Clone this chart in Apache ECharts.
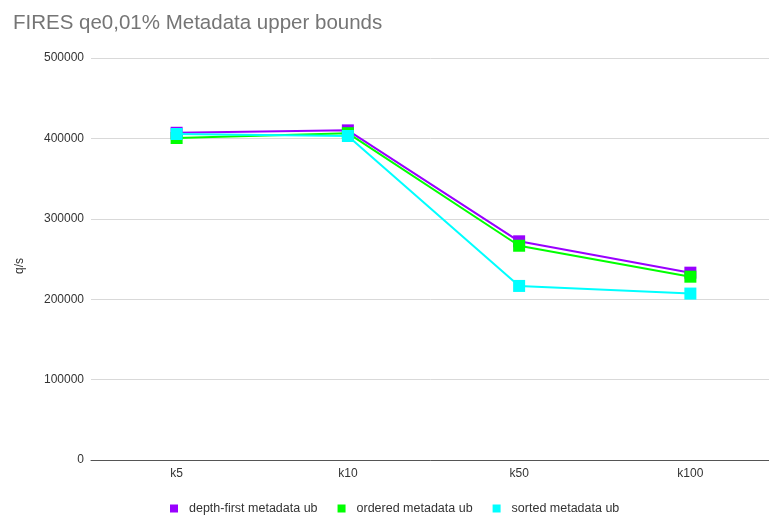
<!DOCTYPE html>
<html>
<head>
<meta charset="utf-8">
<script src="https://cdn.jsdelivr.net/npm/echarts@6/dist/echarts.min.js"></script>
<style>
  html, body { margin: 0; padding: 0; background: #fff; }
  #chart { width: 769px; height: 516px; }
</style>
</head>
<body>
<div id="chart"></div>
<script>
// Query throughput (q/s) per k for three metadata upper-bound strategies
const categories = ['k5', 'k10', 'k50', 'k100'];
const depthFirst = [407000, 410000, 272000, 233000];
const ordered = [400500, 406500, 266500, 228000];
const sorted = [405500, 403000, 216500, 207000];
const yTicks = [0, 100000, 200000, 300000, 400000, 500000];

const seriesNames = ['depth-first metadata ub', 'ordered metadata ub', 'sorted metadata ub'];
const seriesData = [depthFirst, ordered, sorted];
const colors = ['#9900ff', '#00ff00', '#00ffff'];

const chart = echarts.init(document.getElementById('chart'), null, { renderer: 'canvas' });
const font = 'Liberation Sans, Arial, sans-serif';

chart.setOption({
  animation: false,
  backgroundColor: '#ffffff',
  title: {
    text: 'FIRES qe0,01% Metadata upper bounds',
    left: 8,
    top: 8,
    textStyle: { fontFamily: font, fontSize: 20.5, fontWeight: 'normal', color: '#757575' }
  },
  legend: {
    top: 497,
    left: 165,
    itemWidth: 8,
    itemHeight: 8,
    itemGap: 20,
    icon: 'rect',
    textStyle: { fontFamily: font, fontSize: 12.5, color: '#333', padding: [0, 0, 0, 6] },
    data: seriesNames
  },
  grid: { left: 91, width: 685, top: 58, bottom: 56, outerBoundsMode: 'none', containLabel: false },
  xAxis: {
    type: 'category',
    data: categories,
    boundaryGap: true,
    axisLine: { lineStyle: { color: '#555', width: 1 } },
    axisTick: { show: false },
    axisLabel: { fontFamily: font, fontSize: 12, color: '#333', margin: 8 }
  },
  yAxis: {
    type: 'value',
    min: yTicks[0],
    max: yTicks[yTicks.length - 1],
    interval: 100000,
    name: 'q/s',
    nameLocation: 'middle',
    nameGap: 65,
    nameRotate: 90,
    nameTextStyle: { fontFamily: font, fontSize: 12, color: '#333', padding: [0, 14, 0, 0] },
    axisLine: { show: false },
    axisTick: { show: false },
    splitLine: { lineStyle: { color: '#d9d9d9', width: 1 } },
    axisLabel: {
      fontFamily: font, fontSize: 12, color: '#333', margin: 7,
      formatter: v => String(v)
    }
  },
  series: seriesNames.map((name, i) => ({
    name,
    type: 'line',
    data: seriesData[i],
    color: colors[i],
    symbol: 'rect',
    symbolSize: 12,
    showAllSymbol: true,
    lineStyle: { width: 2, color: colors[i] },
    itemStyle: { color: colors[i] },
    z: 2 + i
  }))
});
</script>
</body>
</html>
